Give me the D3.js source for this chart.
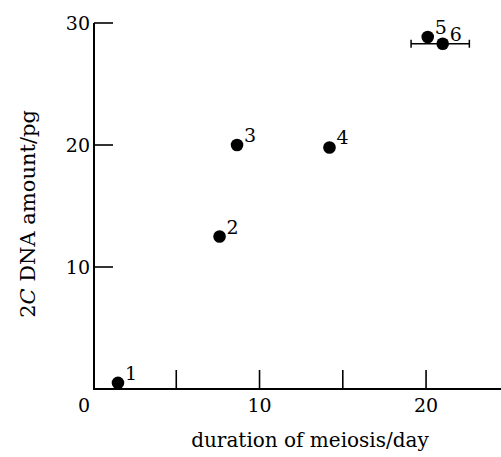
<!DOCTYPE html>
<html><head><meta charset="utf-8">
<script src="https://cdn.jsdelivr.net/npm/d3@7"></script>
<style>body{margin:0;background:#fff}svg{display:block}text{font-family:"DejaVu Serif","Liberation Serif",serif;fill:#000}</style>
</head><body>
<script>
const labels = ["1","2","3","4","5","6"];
const duration = [1.5, 7.6, 8.65, 14.2, 20.1, 21.0];
const dnaAmount = [0.5, 12.5, 20.0, 19.8, 28.85, 28.3];
const errLow = [null, null, null, null, null, 19.1];
const errHigh = [null, null, null, null, null, 22.6];
const xTicks = [5, 10, 15, 20];
const xTickLabels = [10, 20];
const yTicks = [10, 20, 30];

const W = 501, H = 457;
const svg = d3.select("body").append("svg").attr("width", W).attr("height", H);
const x = d3.scaleLinear().domain([0, 24.5]).range([93, 501]);
const y = d3.scaleLinear().domain([0, 30]).range([389, 23]);

// axes lines
svg.append("line").attr("x1", x(0)+1).attr("x2", x(0)+1).attr("y1", y(30)).attr("y2", y(0))
  .attr("stroke", "#000").attr("stroke-width", 2);
svg.append("line").attr("x1", x(0)).attr("x2", W).attr("y1", y(0)).attr("y2", y(0))
  .attr("stroke", "#000").attr("stroke-width", 2);

// x ticks (inward)
svg.selectAll(".xt").data(xTicks).enter().append("line")
  .attr("x1", d => x(d)).attr("x2", d => x(d)).attr("y1", y(0)).attr("y2", y(0) - 19)
  .attr("stroke", "#000").attr("stroke-width", 1.6);
svg.selectAll(".xl").data(xTickLabels).enter().append("text")
  .attr("x", d => x(d)).attr("y", 412).attr("text-anchor", "middle").attr("font-size", 19).text(d => d);
svg.append("text").attr("x", 84).attr("y", 412).attr("text-anchor", "middle").attr("font-size", 19).text("0");

// y ticks (inward)
svg.selectAll(".yt").data(yTicks).enter().append("line")
  .attr("x1", x(0)+1).attr("x2", x(0) + 20).attr("y1", d => y(d)).attr("y2", d => y(d))
  .attr("stroke", "#000").attr("stroke-width", 1.6);
svg.selectAll(".yl").data(yTicks).enter().append("text")
  .attr("x", 90).attr("y", d => y(d) + 7).attr("text-anchor", "end").attr("font-size", 19).text(d => d);

// error bars
const eb = labels.map((l, i) => ({i, lo: errLow[i], hi: errHigh[i]})).filter(d => d.lo != null);
eb.forEach(d => {
  const yy = y(dnaAmount[d.i]);
  svg.append("line").attr("x1", x(d.lo)).attr("x2", x(d.hi)).attr("y1", yy).attr("y2", yy).attr("stroke", "#000").attr("stroke-width", 1.5);
  [d.lo, d.hi].forEach(v => svg.append("line").attr("x1", x(v)).attr("x2", x(v)).attr("y1", yy - 4).attr("y2", yy + 4).attr("stroke", "#000").attr("stroke-width", 1.5));
});

// points
svg.selectAll(".pt").data(labels).enter().append("circle")
  .attr("cx", (d, i) => x(duration[i])).attr("cy", (d, i) => y(dnaAmount[i])).attr("r", 6.3).attr("fill", "#000");
svg.selectAll(".pl").data(labels).enter().append("text")
  .attr("x", (d, i) => x(duration[i]) + 7).attr("y", (d, i) => y(dnaAmount[i]) - 3).attr("font-size", 19).text(d => d);

// axis titles
svg.append("text").attr("x", 310).attr("y", 447).attr("text-anchor", "middle").attr("font-size", 20).text("duration of meiosis/day");
const yt = svg.append("text").attr("transform", "translate(35,214) rotate(-90)").attr("text-anchor", "middle").attr("font-size", 21);
yt.append("tspan").text("2");
yt.append("tspan").attr("font-style", "italic").text("C");
yt.append("tspan").text(" DNA amount/pg");
</script>
</body></html>
